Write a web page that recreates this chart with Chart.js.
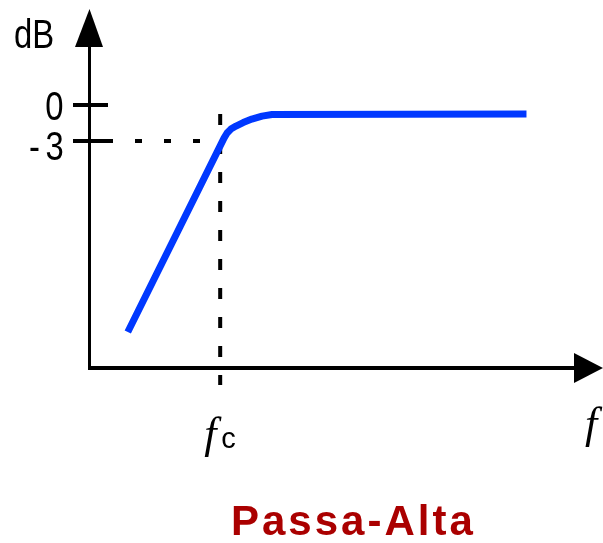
<!DOCTYPE html>
<html>
<head>
<meta charset="utf-8">
<script src="https://cdn.jsdelivr.net/npm/chart.js@4/dist/chart.umd.min.js"></script>
<style>
  html, body { margin: 0; padding: 0; background: #ffffff; }
  #wrap { width: 603px; height: 543px; }
</style>
</head>
<body>
<div id="wrap"><canvas id="c" width="603" height="543"></canvas></div>
<script>
// ---- data ----
const freqValues = [7.5, 26.35, 26.95, 27.7, 28.7, 30.1, 31.8, 33.8, 35.75, 85.6];
const dbValues   = [-18.9, -2.75, -2.33, -2.0, -1.75, -1.46, -1.17, -0.92, -0.79, -0.75];
const yTickValues = [0, -3];
const yTickLabels = ['0', '-3'];
const cutoffFreq = 25.6;      // fc on the x scale
const cutoffDb = -3;
const xMin = 0, xMax = 100;
const yMin = -21.9, yMax = 8;
const yAxisTitle = 'dB';
const xAxisTitle = 'f';
const cutoffMain = 'f';
const cutoffSub = 'c';
const chartTitle = 'Passa-Alta';

const points = freqValues.map((f, i) => ({ x: f, y: dbValues[i] }));

function drawText(ctx, text, x, y, font, color, sx, align, spacing) {
  ctx.save();
  ctx.translate(x, y);
  ctx.scale(sx, 1);
  ctx.font = font;
  ctx.fillStyle = color;
  ctx.textAlign = align;
  ctx.textBaseline = 'alphabetic';
  if (spacing) ctx.letterSpacing = spacing;
  ctx.fillText(text, 0, 0);
  ctx.restore();
}

const decor = {
  id: 'decor',
  beforeDatasetsDraw(chart) {
    const ctx = chart.ctx;
    const xs = chart.scales.x, ys = chart.scales.y;
    const a = chart.chartArea;
    const xAxisY = a.bottom;
    const yAxisX = xs.getPixelForValue(xMin);
    const fcX = xs.getPixelForValue(cutoffFreq);
    const m3Y = ys.getPixelForValue(cutoffDb);
    ctx.save();
    ctx.strokeStyle = '#000';
    ctx.fillStyle = '#000';
    // dashed guide lines
    ctx.lineCap = 'butt';
    ctx.lineWidth = 4;
    ctx.setLineDash([7, 22]);
    ctx.beginPath();
    ctx.moveTo(135, m3Y);
    ctx.lineTo(fcX, m3Y);
    ctx.stroke();
    ctx.setLineDash([11, 18]);
    ctx.beginPath();
    ctx.moveTo(fcX, ys.getPixelForValue(dbValues[dbValues.length - 1]));
    ctx.lineTo(fcX, 385);
    ctx.stroke();
    ctx.setLineDash([]);
    // y axis
    ctx.lineWidth = 3;
    ctx.beginPath();
    ctx.moveTo(yAxisX, 45);
    ctx.lineTo(yAxisX, xAxisY + 2);
    ctx.stroke();
    ctx.beginPath();
    ctx.moveTo(yAxisX, 9);
    ctx.lineTo(yAxisX + 13.5, 47);
    ctx.lineTo(yAxisX - 14.5, 47);
    ctx.closePath();
    ctx.fill();
    // x axis
    ctx.lineWidth = 4;
    ctx.beginPath();
    ctx.moveTo(yAxisX - 1.5, xAxisY);
    ctx.lineTo(576, xAxisY);
    ctx.stroke();
    ctx.beginPath();
    ctx.moveTo(603, xAxisY);
    ctx.lineTo(574, xAxisY - 15);
    ctx.lineTo(574, xAxisY + 15);
    ctx.closePath();
    ctx.fill();
    // y ticks
    const tickEnds = [108, 113];
    yTickValues.forEach((v, i) => {
      const py = ys.getPixelForValue(v);
      ctx.lineWidth = 4;
      ctx.beginPath();
      ctx.moveTo(73, py);
      ctx.lineTo(tickEnds[i], py);
      ctx.stroke();
    });
    ctx.restore();
  },
  afterDatasetsDraw(chart) {
    const ctx = chart.ctx;
    const xs = chart.scales.x, ys = chart.scales.y;
    const fcX = xs.getPixelForValue(cutoffFreq);
    const lab = '41px "Liberation Sans", Arial, sans-serif';
    drawText(ctx, yAxisTitle, 14, 48, lab, '#000', 0.8, 'left');
    // tick labels
    const p0 = ys.getPixelForValue(yTickValues[0]);
    drawText(ctx, yTickLabels[0], 63.5, p0 + 15, lab, '#000', 0.8, 'right');
    const p1 = ys.getPixelForValue(yTickValues[1]);
    drawText(ctx, yTickLabels[1], 29, p1 + 19, lab, '#000', 0.8, 'left', '7px');
    // fc label
    drawText(ctx, cutoffMain, fcX - 16, 448, 'italic 44px "Liberation Serif", "Times New Roman", serif', '#000', 1, 'left');
    drawText(ctx, cutoffSub, fcX + 1, 448, '29px "Liberation Sans", Arial, sans-serif', '#000', 1, 'left');
    // x axis title
    drawText(ctx, xAxisTitle, 585, 438, 'italic 44px "Liberation Serif", "Times New Roman", serif', '#000', 1, 'left');
    // chart title
    drawText(ctx, chartTitle, 231, 535, 'bold 42px "Liberation Sans", Arial, sans-serif', '#aa0000', 1, 'left', '3px');
  }
};

new Chart(document.getElementById('c'), {
  type: 'line',
  data: {
    datasets: [{
      data: points,
      borderColor: 'rgb(0,56,255)',
      borderWidth: 7,
      borderCapStyle: 'butt',
      borderJoinStyle: 'round',
      pointRadius: 0,
      tension: 0,
      fill: false
    }]
  },
  options: {
    responsive: false,
    animation: false,
    layout: { padding: { left: 89.5, right: 3, top: 9, bottom: 175 } },
    plugins: { legend: { display: false }, tooltip: { enabled: false }, title: { display: false } },
    scales: {
      x: { type: 'linear', min: xMin, max: xMax, display: false },
      y: { type: 'linear', min: yMin, max: yMax, display: false }
    }
  },
  plugins: [decor]
});
</script>
</body>
</html>
